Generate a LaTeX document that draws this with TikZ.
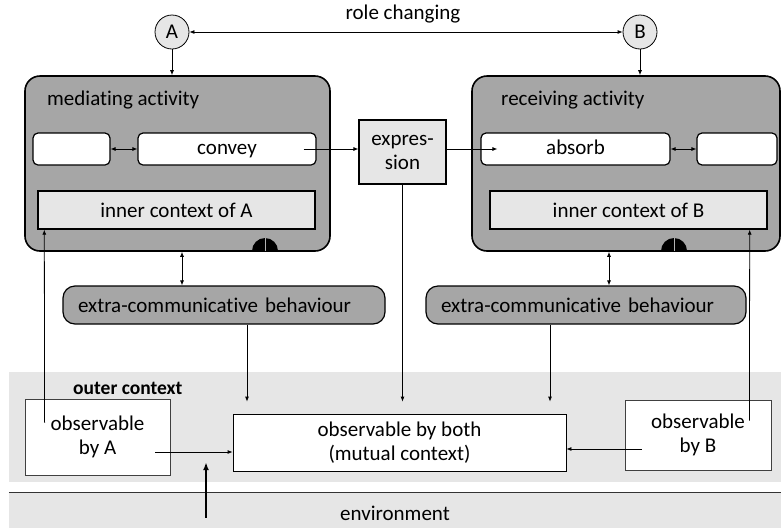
\documentclass[tikz,border=0pt]{standalone}
\usepackage{fontspec}
\setmainfont{Carlito}[Ligatures=NoCommon]
\usetikzlibrary{arrows.meta}
\definecolor{actfill}{HTML}{A6A6A6}
\definecolor{ctxfill}{HTML}{E6E6E6}
\tikzset{
  lbl/.style={font=\fontsize{21}{24}\selectfont, inner sep=0pt},
  actbox/.style={draw, line width=1.6pt, fill=actfill, rounded corners=15pt, inner sep=0pt},
  subbox/.style={lbl, draw, line width=1.2pt, fill=white, rounded corners=5pt, minimum height=32pt,
                 text height=14pt, text depth=4pt},
  ctxbox/.style={lbl, draw, line width=1.4pt, fill=ctxfill, minimum height=38pt},
  behbox/.style={lbl, draw, line width=1.2pt, fill=actfill, rounded corners=12pt,
                 minimum height=38pt, inner xsep=15pt, align=left},
  obsbox/.style={lbl, draw=black!75, line width=0.8pt, fill=white, align=center},
  rolecirc/.style={lbl, circle, draw, line width=0.8pt, fill=ctxfill, minimum size=34pt},
  band/.style={fill=ctxfill, inner sep=0pt, minimum width=772pt},
  link/.style={-{Latex[length=5pt,width=4pt]}, line width=0.8pt},
  dlink/.style={{Latex[length=5pt,width=4pt]}-{Latex[length=5pt,width=4pt]}, line width=0.8pt},
}

\begin{document}
\begin{tikzpicture}[x=1pt, y=-1pt]
    \useasboundingbox (0,0) rectangle (781,528);
    % the two bands at the bottom
    \node[band, minimum height=110pt] (outer) at (395,427) {};
    \node[band, minimum height=35pt] (env) at (395,510.5) {};
    \draw[line width=1pt, black!80] (env.north west) -- (env.north east);
    \node[lbl] (envtxt) at (395,513) {environment};
    \node[lbl, font=\fontsize{19.5}{22}\selectfont\bfseries, anchor=west] (outertxt) at (73,388) {outer context};
    % the two parties
    \node[rolecirc] (A) at (172,32) {A};
    \node[rolecirc] (B) at (640,32) {B};
    \node[lbl] (role) at (403,14) {role changing};
    % activities
    \node[actbox, minimum width=305pt, minimum height=175pt] (medact) at (177.5,163.5) {};
    \node[actbox, minimum width=308pt, minimum height=175pt] (recact) at (626,163.5) {};
    \node[lbl, anchor=west] (medtxt) at (47,100) {mediating activity};
    \node[lbl, anchor=west] (rectxt) at (501,100) {receiving activity};
    \node[subbox, minimum width=77pt] (mbox) at (71.5,149) {};
    \node[subbox, minimum width=178pt] (convey) at (227,149) {convey};
    \node[subbox, minimum width=189pt] (absorb) at (575.5,149) {absorb};
    \node[subbox, minimum width=80pt] (rbox) at (737,149) {};
    \node[ctxbox, minimum width=277pt] (innerA) at (176.5,210) {inner context of A};
    \node[ctxbox, minimum width=277pt] (innerB) at (628.5,210) {inner context of B};
    \node[lbl, draw, line width=1.2pt, fill=ctxfill, align=center, minimum width=87pt,
          minimum height=64pt] (expr) at (402.5,152) {expres-\\sion};
    % half circles on the activity boxes
    \fill (252,251) arc[start angle=180, end angle=360, radius=13];
    \draw[black!30, line width=0.6pt] (265,251) -- (265,238);
    \fill (661,251) arc[start angle=180, end angle=360, radius=13];
    \draw[black!30, line width=0.6pt] (674,251) -- (674,238);
    % behaviour
    \node[behbox, text width=292pt] (extraA) at (224,305) {extra-communicative behaviour};
    \node[behbox, text width=290pt] (extraB) at (586,305) {extra-communicative behaviour};
    % observables
    \node[obsbox, minimum width=145pt, minimum height=76pt] (obsA) at (97.5,437) {observable\\by A};
    \node[obsbox, draw=black, minimum width=333pt, minimum height=57pt] (mutual) at (399.5,442.5)
         {observable by both\\(mutual context)};
    \node[obsbox, minimum width=146pt, minimum height=70pt] (obsB) at (698,435) {observable\\by B};
    \coordinate (mtop) at ([yshift=12pt]mutual.north);
    \coordinate (oa) at ([xshift=-15pt,yshift=-15pt]obsA.east);
    \coordinate (ob) at ([xshift=17pt,yshift=-14pt]obsB.west);
    \coordinate (envarr) at ([xshift=-189pt,yshift=-25pt]env.north);
    % connectors
    \draw[dlink] (A) -- (B);
    \draw[link] (A.south) -- (A.south |- medact.north);
    \draw[link] (B.south) -- (B.south |- recact.north);
    \draw[dlink] (mbox) -- (convey);
    \draw[dlink] (absorb) -- (rbox);
    \draw[link] ([xshift=-13pt]convey.east) -- (expr.west |- convey.east);
    \draw[link] (expr.east |- absorb.west) -- ([xshift=17pt]absorb.west);
    \draw[dlink] ([xshift=4.5pt]medact.south) -- ([xshift=4.5pt]medact.south |- extraA.north);
    \draw[dlink] ([xshift=-17pt]recact.south) -- ([xshift=-17pt]recact.south |- extraB.north);
    \draw[link] ([xshift=23pt]extraA.south) -- ([xshift=23pt]extraA.south |- mtop);
    \draw[link] (expr.south) -- (expr.south |- mtop);
    \draw[link] ([xshift=-36pt]extraB.south) -- ([xshift=-36pt]extraB.south |- mtop);
    \draw[link] ([xshift=20pt,yshift=-24pt]obsA.north west) -- ([xshift=7pt]innerA.south west);
    \draw[link] ([xshift=-22pt,yshift=-21pt]obsB.north east) -- ([xshift=-18pt]innerB.south east);
    \draw[link] (oa) -- (oa -| mutual.west);
    \draw[link] (ob) -- (ob -| mutual.east);
    \draw[-{Latex[length=8pt,width=6pt]}, line width=2.4pt] (envarr) -- ([yshift=20pt]outer.south -| envarr);
  \end{tikzpicture}
\end{document}
